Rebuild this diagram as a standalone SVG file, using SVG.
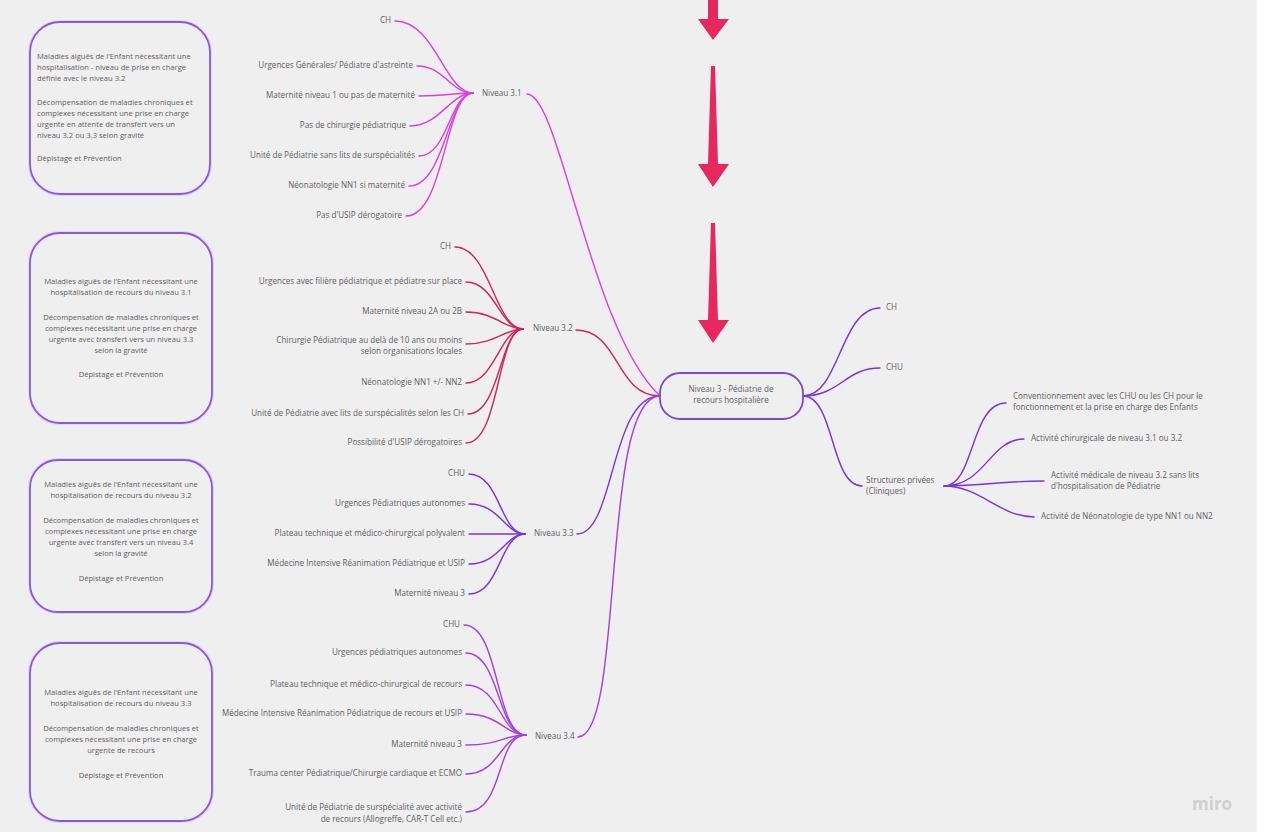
<svg xmlns="http://www.w3.org/2000/svg" width="1264" height="837" viewBox="0 0 1264 837">
<defs>
<style>
text{font-family:"Open Sans","Noto Sans","Liberation Sans",sans-serif;fill:#606060;}
.t{font-size:8.1px;}
.b{font-size:7.6px;}
.box{fill:#efefef;stroke:#8a58dc;stroke-width:1.8;}
.halo{fill:none;stroke:#e2d6f6;stroke-width:4;}
.c{fill:none;stroke-linecap:round;}
.m{stroke:#dc3fdc;stroke-width:1.4;}
.r{stroke:#d22458;stroke-width:1.4;}
.v{stroke:#7534e0;stroke-width:1.4;}
.p{stroke:#a43fe2;stroke-width:1.4;}
.arrow{fill:#e6285e;}
</style>
</defs>
<rect x="0" y="0" width="1264" height="837" fill="#efefef"/>
<rect x="1257" y="0" width="7" height="837" fill="#ffffff"/>
<rect x="0" y="832" width="1264" height="5" fill="#ffffff"/>

<g id="arrows">
<polygon class="arrow" points="708,0 718,0 718,19 729,19 713,40 698,19 708,19"/>
<polygon class="arrow" points="711,66 715,66 718,164 729,164 713,187 698,164 708,164"/>
<polygon class="arrow" points="711,223 715,223 718,320 729,320 713,343 698,320 708,320"/>
</g>

<g id="connectors">
<path class="c m" d="M395 21 C435 21 445 93 473 93"/>
<path class="c m" d="M417 66 C445 66 450 93 473 93"/>
<path class="c m" d="M419 96 C445 96 455 93 473 93"/>
<path class="c m" d="M410 126 C440 126 450 93 473 93"/>
<path class="c m" d="M419 156 C448 156 450 93 473 93"/>
<path class="c m" d="M409 186 C445 186 448 93 473 93"/>
<path class="c m" d="M406 216 C445 216 445 93 473 93"/>
<path class="c m" d="M527 94 C560 94 590 330 660 396"/>
<path class="c r" d="M455 247 C490 247 495 329 523 329"/>
<path class="c r" d="M466 282 C495 282 500 329 523 329"/>
<path class="c r" d="M466 312 C495 312 505 329 523 329"/>
<path class="c r" d="M466 344 C495 344 505 329 523 329"/>
<path class="c r" d="M466 383 C495 383 500 329 523 329"/>
<path class="c r" d="M468 414 C500 414 500 329 523 329"/>
<path class="c r" d="M466 443 C500 443 497 329 523 329"/>
<path class="c r" d="M576 330 C620 330 615 396 660 396"/>
<path class="c v" d="M469 474 C500 474 500 534 525 534"/>
<path class="c v" d="M469 504 C500 504 505 534 525 534"/>
<path class="c v" d="M469 534 L525 534"/>
<path class="c v" d="M469 564 C500 564 505 534 525 534"/>
<path class="c v" d="M469 594 C500 594 500 534 525 534"/>
<path class="c v" d="M577 534 C615 534 610 396 660 396"/>
<path class="c p" d="M464 625 C500 625 495 735 526 735"/>
<path class="c p" d="M466 653 C500 653 497 735 526 735"/>
<path class="c p" d="M466 685 C500 685 500 735 526 735"/>
<path class="c p" d="M466 714 C500 714 505 735 526 735"/>
<path class="c p" d="M466 745 C500 745 505 735 526 735"/>
<path class="c p" d="M466 774 C500 774 500 735 526 735"/>
<path class="c p" d="M466 812 C505 812 495 735 526 735"/>
<path class="c p" d="M578 737 C625 737 600 396 660 396"/>
<path class="c v" d="M803 396 C840 396 840 308 880 308"/>
<path class="c v" d="M803 396 C840 396 845 368 880 368"/>
<path class="c v" d="M803 396 C835 396 830 486 862 486"/>
<path class="c v" d="M944 486 C975 486 970 403 1006 403"/>
<path class="c v" d="M944 486 C985 486 990 439 1024 439"/>
<path class="c v" d="M944 486 C985 486 1000 481 1044 481"/>
<path class="c v" d="M944 486 C980 486 1000 517 1034 517"/>
</g>

<g id="box-1">
<rect class="halo" x="30" y="22" width="180" height="172" rx="30"/>
<rect class="box" x="30" y="22" width="180" height="172" rx="30"/>
<text class="b" x="37" y="59"><tspan x="37">Maladies aiguës de l'Enfant nécessitant une</tspan><tspan x="37" dy="11">hospitalisation - niveau de prise en charge</tspan><tspan x="37" dy="11">définie avec le niveau 3.2</tspan><tspan x="37" dy="24">Décompensation de maladies chroniques et</tspan><tspan x="37" dy="11">complexes nécessitant une prise en charge</tspan><tspan x="37" dy="11">urgente en attente de transfert vers un</tspan><tspan x="37" dy="11">niveau 3.2 ou 3.3 selon gravité</tspan><tspan x="37" dy="23">Dépistage et Prévention</tspan></text>
</g>
<g id="box-2">
<rect class="halo" x="30" y="233" width="182" height="190" rx="30"/>
<rect class="box" x="30" y="233" width="182" height="190" rx="30"/>
<text class="b" text-anchor="middle" x="121" y="284"><tspan x="121">Maladies aiguës de l'Enfant nécessitant une</tspan><tspan x="121" dy="11">hospitalisation de recours du niveau 3.1</tspan><tspan x="121" dy="25">Décompensation de maladies chroniques et</tspan><tspan x="121" dy="11">complexes nécessitant une prise en charge</tspan><tspan x="121" dy="11">urgente avec transfert vers un niveau 3.3</tspan><tspan x="121" dy="11">selon la gravité</tspan><tspan x="121" dy="24">Dépistage et Prévention</tspan></text>
</g>
<g id="box-3">
<rect class="halo" x="30" y="460" width="182" height="152" rx="28"/>
<rect class="box" x="30" y="460" width="182" height="152" rx="28"/>
<text class="b" text-anchor="middle" x="121" y="487"><tspan x="121">Maladies aiguës de l'Enfant nécessitant une</tspan><tspan x="121" dy="11">hospitalisation de recours du niveau 3.2</tspan><tspan x="121" dy="25">Décompensation de maladies chroniques et</tspan><tspan x="121" dy="11">complexes nécessitant une prise en charge</tspan><tspan x="121" dy="11">urgente avec transfert vers un niveau 3.4</tspan><tspan x="121" dy="11">selon la gravité</tspan><tspan x="121" dy="25">Dépistage et Prévention</tspan></text>
</g>
<g id="box-4">
<rect class="halo" x="30" y="643" width="182" height="178" rx="30"/>
<rect class="box" x="30" y="643" width="182" height="178" rx="30"/>
<text class="b" text-anchor="middle" x="121" y="695"><tspan x="121">Maladies aiguës de l'Enfant nécessitant une</tspan><tspan x="121" dy="11">hospitalisation de recours du niveau 3.3</tspan><tspan x="121" dy="25">Décompensation de maladies chroniques et</tspan><tspan x="121" dy="11">complexes nécessitant une prise en charge</tspan><tspan x="121" dy="11">urgente de recours</tspan><tspan x="121" dy="25">Dépistage et Prévention</tspan></text>
</g>

<g id="niveau-3-1">
<text class="t" x="482" y="96">Niveau  3.1</text>
</g>
<g id="n31-items">
<text class="t" text-anchor="end" x="391" y="23">CH</text>
<text class="t" text-anchor="end" x="413" y="68">Urgences  Générales/ Pédiatre d'astreinte</text>
<text class="t" text-anchor="end" x="415" y="98">Maternité niveau 1 ou pas de maternité</text>
<text class="t" text-anchor="end" x="406" y="128">Pas de chirurgie pédiatrique</text>
<text class="t" text-anchor="end" x="415" y="158">Unité de Pédiatrie sans lits de surspécialités</text>
<text class="t" text-anchor="end" x="405" y="188">Néonatologie NN1 si maternité</text>
<text class="t" text-anchor="end" x="402" y="218">Pas d'USIP dérogatoire</text>
</g>

<g id="niveau-3-2">
<text class="t" x="533" y="331">Niveau 3.2</text>
</g>
<g id="n32-items">
<text class="t" text-anchor="end" x="451" y="249">CH</text>
<text class="t" text-anchor="end" x="462" y="284">Urgences avec filière pédiatrique et pédiatre sur place</text>
<text class="t" text-anchor="end" x="462" y="314">Maternité niveau 2A ou 2B</text>
<text class="t" text-anchor="end" x="462" y="343"><tspan x="462">Chirurgie Pédiatrique au delà de 10 ans ou moins</tspan><tspan x="462" dy="11">selon organisations locales</tspan></text>
<text class="t" text-anchor="end" x="462" y="385">Néonatologie NN1 +/- NN2</text>
<text class="t" text-anchor="end" x="464" y="416">Unité de Pédiatrie avec lits de surspécialités selon les CH</text>
<text class="t" text-anchor="end" x="462" y="445">Possibilité d'USIP dérogatoires</text>
</g>

<g id="niveau-3-3">
<text class="t" x="534" y="536">Niveau 3.3</text>
</g>
<g id="n33-items">
<text class="t" text-anchor="end" x="465" y="476">CHU</text>
<text class="t" text-anchor="end" x="465" y="506">Urgences Pédiatriques autonomes</text>
<text class="t" text-anchor="end" x="465" y="536">Plateau technique et médico-chirurgical polyvalent</text>
<text class="t" text-anchor="end" x="465" y="566">Médecine Intensive Réanimation Pédiatrique et USIP</text>
<text class="t" text-anchor="end" x="465" y="596">Maternité niveau 3</text>
</g>

<g id="niveau-3-4">
<text class="t" x="535" y="739">Niveau 3.4</text>
</g>
<g id="n34-items">
<text class="t" text-anchor="end" x="460" y="627">CHU</text>
<text class="t" text-anchor="end" x="462" y="655">Urgences pédiatriques autonomes</text>
<text class="t" text-anchor="end" x="462" y="687">Plateau technique et médico-chirurgical de recours</text>
<text class="t" text-anchor="end" x="462" y="716">Médecine Intensive Réanimation Pédiatrique de recours et USIP</text>
<text class="t" text-anchor="end" x="462" y="747">Maternité niveau 3</text>
<text class="t" text-anchor="end" x="462" y="776">Trauma center Pédiatrique/Chirurgie cardiaque et ECMO</text>
<text class="t" text-anchor="end" x="462" y="810"><tspan x="462">Unité de Pédiatrie de surspécialité avec activité</tspan><tspan x="462" dy="12">de recours (Allogreffe, CAR-T Cell etc.)</tspan></text>
</g>

<g id="center">
<rect x="660" y="373" width="143" height="46" rx="20" fill="#efefef" stroke="#7a48d8" stroke-width="1.8"/>
<text class="t" text-anchor="middle" x="731" y="392"><tspan x="731">Niveau 3 - Pédiatrie de</tspan><tspan x="731" dy="11">recours hospitalière</tspan></text>
</g>

<g id="right-ch"><text class="t" x="886" y="310">CH</text></g>
<g id="right-chu"><text class="t" x="886" y="370">CHU</text></g>
<g id="structures-privees">
<text class="t" x="866" y="483"><tspan x="866">Structures privées</tspan><tspan x="866" dy="11">(Cliniques)</tspan></text>
</g>
<g id="sp-items">
<text class="t" x="1013" y="399"><tspan x="1013">Conventionnement avec les CHU ou les CH pour le</tspan><tspan x="1013" dy="11">fonctionnement et la prise en charge des Enfants</tspan></text>
<text class="t" x="1031" y="441">Activité chirurgicale de niveau 3.1 ou 3.2</text>
<text class="t" x="1051" y="478"><tspan x="1051">Activité médicale de niveau 3.2 sans lits</tspan><tspan x="1051" dy="11">d'hospitalisation de Pédiatrie</tspan></text>
<text class="t" x="1041" y="519">Activité de Néonatologie de type NN1 ou NN2</text>
</g>

<text x="1192" y="810" style="font-family:'Open Sans','Liberation Sans',sans-serif;font-size:17px;font-weight:bold;fill:#d0d0d0">miro</text>
</svg>
